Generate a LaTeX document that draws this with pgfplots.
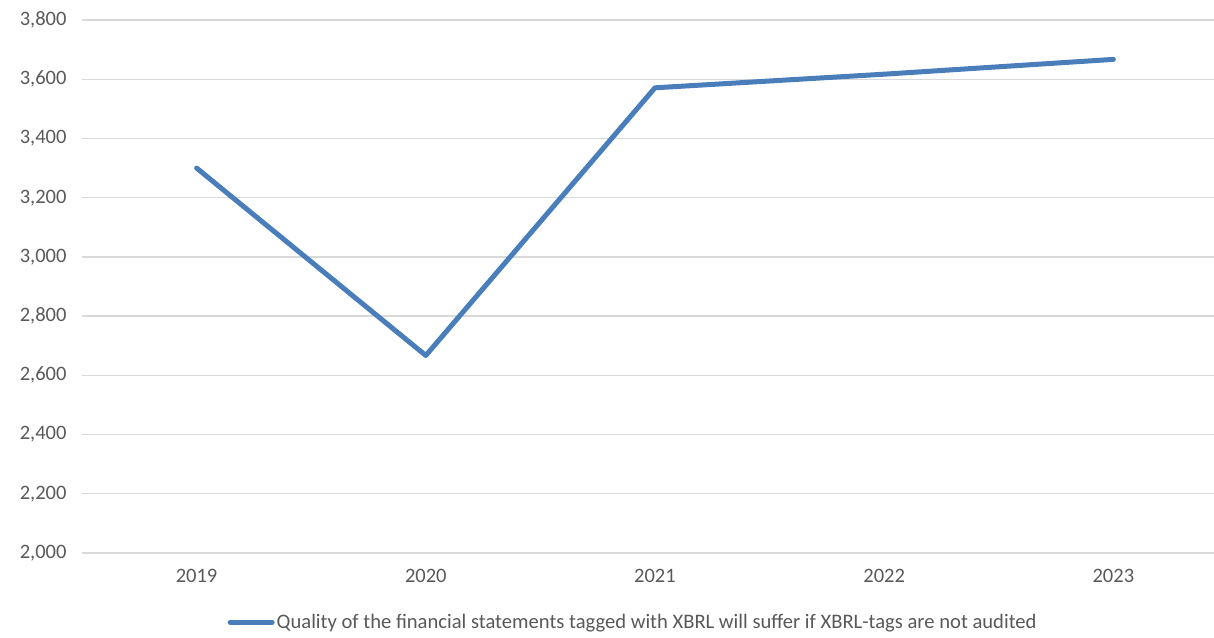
\documentclass[border=0pt]{standalone}
\usepackage{fontspec}
\setmainfont{Carlito}
\usepackage{pgfplots}
\pgfplotsset{compat=1.18}
\definecolor{lineblue}{RGB}{74,126,187}
\definecolor{gridgray}{RGB}{217,217,217}
\definecolor{txtgray}{RGB}{89,89,89}
\begin{document}
\begin{tikzpicture}
% fixed page: axis box lower-left at origin, right side cut as in the reference
\useasboundingbox (-82pt,-84pt) rectangle (1132pt,553pt);
\begin{axis}[
    at={(0,0)}, anchor=south west,
    scale only axis,
    width=1146pt,
    height=533pt,
    xmin=-0.5, xmax=4.5,
    ymin=2000, ymax=3800,
    ytick={2000,2200,...,3800},
    xtick={0,1,2,3,4},
    xticklabels={2019,2020,2021,2022,2023},
    axis line style={draw=none},
    major tick length=0pt,
    ymajorgrids,
    grid style={gridgray, line width=1.3pt},
    tick label style={font=\fontsize{20.5}{24}\selectfont, text=txtgray},
    /pgf/number format/assume math mode=true,
    /pgf/number format/1000 sep={,},
    yticklabel style={xshift=-12pt},
    xticklabel style={yshift=-13pt},
    legend style={at={(0.481,-0.13)}, anchor=center, draw=none,
        font=\fontsize{20.6}{24}\selectfont, text=txtgray,
        /tikz/every even column/.append style={column sep=0pt}},
    legend image code/.code={\draw[#1, line cap=round] (0pt,0pt) -- (42pt,0pt);},
]
\addplot[lineblue, line width=5pt, line cap=round, line join=round, mark=none]
    coordinates {(0,3300) (1,2667) (2,3571) (3,3617) (4,3667)};
\legend{Quality of the financial statements tagged with XBRL will suffer if XBRL-tags are not audited}
\end{axis}
\end{tikzpicture}
\end{document}
